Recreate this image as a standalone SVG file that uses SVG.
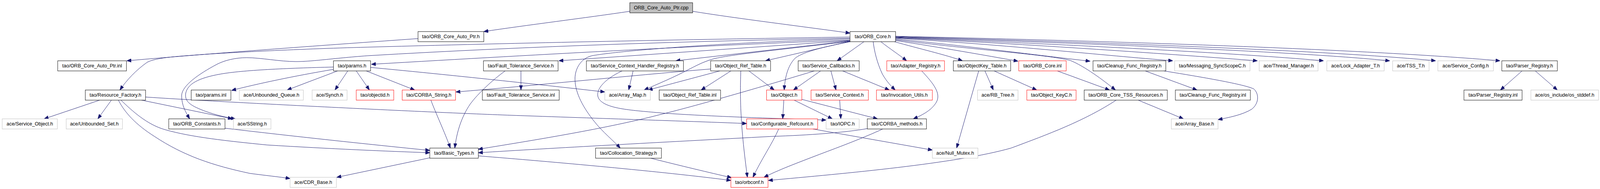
<svg xmlns="http://www.w3.org/2000/svg" width="4352" height="485" viewBox="0 0 4352 485">
<defs>
<style>
.n rect{fill:#ffffff;stroke:#000000;stroke-width:1}
.n.red rect{stroke:#ff0000}
.n.gray rect{stroke:#bfbfbf}
.n.root rect{fill:#bfbfbf;stroke:#000000}
.n text{font-family:"Liberation Sans",Arial,Helvetica,sans-serif;font-size:13.3px;fill:#000000;text-anchor:middle}
.e path{fill:none;stroke:#191970;stroke-width:1;marker-end:url(#arr)}
</style>
<marker id="arr" markerWidth="12" markerHeight="9" refX="12" refY="4.5" orient="auto" markerUnits="userSpaceOnUse">
<path d="M0,0 L12,4.5 L0,9 z" fill="#191970" stroke="#191970" stroke-width="1"/>
</marker>
</defs>
<rect x="0" y="0" width="4352" height="485" fill="#ffffff"/>
<g id="diagram" transform="scale(0.941176,1)">
<g id="edges" class="e">
<path d="M1713,29 C1600,45 1420,66 1316,81"/>
<path d="M1884,29 C2000,47 2200,70 2312,85"/>
<path d="M1137,99 C900,115 600,135 345,156"/>
<path d="M2312,95 C1900,101 1500,108 1000,121 C800,126 600,136 520,142 C460,146 420,150 400,160 C370,180 345,205 326,231"/>
<path d="M2312,98 C1900,105 1450,118 1000,143 C900,150 850,158 805,158 C760,158 710,148 671,148 C640,148 610,155 590,165 C540,190 495,220 494,245 C494,270 505,288 516,305"/>
<path d="M2312,103 C1950,115 1500,138 1010,165"/>
<path d="M2312,104 L1520,156"/>
<path d="M2312,105 L1838,156"/>
<path d="M2312,106 L2082,156"/>
<path d="M2312,100 C2000,108 1700,128 1610,143 C1580,150 1565,175 1564,200 C1563,240 1590,280 1615,310 C1640,340 1670,362 1687,380"/>
<path d="M2312,106 C2150,125 1980,140 1937,152 C1910,160 1895,168 1880,175 C1830,200 1790,215 1752,231"/>
<path d="M2313,107 C2230,122 2180,135 2162,150 C2142,170 2135,200 2133,231"/>
<path d="M2350,107 L2277,156"/>
<path d="M2375,107 C2378,130 2385,160 2400,190 C2412,210 2425,222 2435,231"/>
<path d="M2396,107 C2420,125 2445,140 2466,156"/>
<path d="M2433,107 C2500,125 2570,140 2618,156"/>
<path d="M2436,104 C2560,122 2680,142 2769,157"/>
<path d="M2436,102 C2650,128 2850,140 2911,155 C2950,170 3000,205 3034,231"/>
<path d="M2436,100 C2650,120 2850,145 2965,157"/>
<path d="M2436,98 C2750,116 3000,142 3190,156"/>
<path d="M2436,97 C2800,113 3200,140 3420,156"/>
<path d="M2436,96 C2850,112 3350,135 3600,156"/>
<path d="M2436,95 C2900,110 3500,130 3780,156"/>
<path d="M2436,94 C2950,108 3600,128 3905,156"/>
<path d="M2436,93 C3000,105 3700,125 4080,156"/>
<path d="M1933,177 C1700,195 1450,220 1240,236"/>
<path d="M1958,182 L1763,231"/>
<path d="M1988,182 L1907,231"/>
<path d="M2037,182 L2106,231"/>
<path d="M2015,182 C2012,260 2015,330 2033,455"/>
<path d="M1722,182 L1710,231"/>
<path d="M1692,182 C1640,205 1615,235 1630,255 C1650,280 1720,283 1800,290 C1950,300 2150,305 2247,308"/>
<path d="M907,178 C800,195 700,215 630,232"/>
<path d="M907,172 C780,175 660,180 600,190 C540,200 510,215 505,240 C502,262 520,272 560,286 C590,296 615,301 640,305"/>
<path d="M918,182 L781,231"/>
<path d="M946,182 L911,231"/>
<path d="M969,182 L1005,231"/>
<path d="M996,182 L1128,231"/>
<path d="M1008,173 C1200,190 1450,215 1645,236"/>
<path d="M271,257 L120,305"/>
<path d="M303,257 L266,305"/>
<path d="M385,257 L632,305"/>
<path d="M396,249 C600,262 1200,290 1426,297 C1700,306 1900,312 2031,317"/>
<path d="M329,257 C360,285 400,320 450,333 C520,352 620,362 726,372 C900,382 1050,388 1169,392"/>
<path d="M322,257 C340,290 370,320 420,350 C500,400 580,425 680,445 C720,450 760,454 789,458"/>
<path d="M612,329 C800,350 1000,370 1169,386"/>
<path d="M1172,257 C1185,290 1210,340 1225,380"/>
<path d="M1374,182 C1340,205 1300,240 1279,267 C1255,300 1242,340 1237,380"/>
<path d="M1417,182 L1417,231"/>
<path d="M2215,182 C2100,215 1900,270 1800,293 C1650,330 1450,360 1301,383"/>
<path d="M2359,330 C2300,340 2200,347 2100,350 C1800,365 1500,380 1301,392"/>
<path d="M1169,405 L916,455"/>
<path d="M1301,400 C1500,415 1800,440 1988,463"/>
<path d="M1770,406 C1850,425 1930,443 1990,456"/>
<path d="M2118,331 C2100,370 2070,410 2048,455"/>
<path d="M2401,331 C2300,375 2150,420 2078,455"/>
<path d="M3036,257 C2950,310 2850,345 2750,380 C2600,420 2300,445 2090,463"/>
<path d="M2132,257 L2129,305"/>
<path d="M2160,257 L2264,305"/>
<path d="M2181,255 L2387,305"/>
<path d="M2232,182 L2158,231"/>
<path d="M2260,182 L2274,231"/>
<path d="M2292,182 L2419,231"/>
<path d="M2284,257 L2287,305"/>
<path d="M2507,182 C2540,215 2560,240 2547,262 C2535,282 2510,295 2484,305"/>
<path d="M2662,182 L2602,380"/>
<path d="M2679,182 L2702,231"/>
<path d="M2704,182 L2820,231"/>
<path d="M2211,331 L2536,385"/>
<path d="M2876,182 L3018,231"/>
<path d="M3115,182 L3256,231"/>
<path d="M3166,182 C3250,195 3380,215 3410,228 C3425,240 3425,265 3405,280 C3380,295 3340,302 3313,307"/>
<path d="M3096,257 L3219,305"/>
<path d="M4140,182 L4081,231"/>
<path d="M4176,182 L4236,231"/>
</g>
<g id="n0" class="n root"><rect x="1713" y="7" width="171" height="26"/><text x="1798.5" y="24.5">ORB_Core_Auto_Ptr.cpp</text></g>
<g id="n1" class="n"><rect x="1137" y="81" width="179" height="26"/><text x="1226.5" y="98.5">tao/ORB_Core_Auto_Ptr.h</text></g>
<g id="n2" class="n"><rect x="2312" y="81" width="124" height="26"/><text x="2374" y="98.5">tao/ORB_Core.h</text></g>
<g id="n3" class="n"><rect x="157" y="156" width="187" height="26"/><text x="250.5" y="173.5">tao/ORB_Core_Auto_Ptr.inl</text></g>
<g id="n4" class="n"><rect x="907" y="156" width="101" height="26"/><text x="957.5" y="173.5">tao/params.h</text></g>
<g id="n5" class="n"><rect x="1315" y="156" width="203" height="26"/><text x="1416.5" y="173.5">tao/Fault_Tolerance_Service.h</text></g>
<g id="n6" class="n"><rect x="1595" y="156" width="264" height="26"/><text x="1727" y="173.5">tao/Service_Context_Handler_Registry.h</text></g>
<g id="n7" class="n"><rect x="1933" y="156" width="163" height="26"/><text x="2014.5" y="173.5">tao/Object_Ref_Table.h</text></g>
<g id="n8" class="n"><rect x="2171" y="156" width="166" height="26"/><text x="2254" y="173.5">tao/Service_Callbacks.h</text></g>
<g id="n9" class="n red"><rect x="2412" y="156" width="157" height="26"/><text x="2490.5" y="173.5">tao/Adapter_Registry.h</text></g>
<g id="n10" class="n"><rect x="2593" y="156" width="156" height="26"/><text x="2671" y="173.5">tao/ObjectKey_Table.h</text></g>
<g id="n11" class="n red"><rect x="2771" y="156" width="129" height="26"/><text x="2835.5" y="173.5">tao/ORB_Core.inl</text></g>
<g id="n12" class="n"><rect x="2973" y="156" width="198" height="26"/><text x="3072" y="173.5">tao/Cleanup_Func_Registry.h</text></g>
<g id="n13" class="n gray"><rect x="3195" y="156" width="205" height="26"/><text x="3297.5" y="173.5">tao/Messaging_SyncScopeC.h</text></g>
<g id="n14" class="n gray"><rect x="3425" y="156" width="160" height="26"/><text x="3505" y="173.5">ace/Thread_Manager.h</text></g>
<g id="n15" class="n gray"><rect x="3609" y="156" width="156" height="26"/><text x="3687" y="173.5">ace/Lock_Adapter_T.h</text></g>
<g id="n16" class="n gray"><rect x="3788" y="156" width="99" height="26"/><text x="3837.5" y="173.5">ace/TSS_T.h</text></g>
<g id="n17" class="n gray"><rect x="3911" y="156" width="151" height="26"/><text x="3986.5" y="173.5">ace/Service_Config.h</text></g>
<g id="n18" class="n"><rect x="4085" y="156" width="151" height="26"/><text x="4160.5" y="173.5">tao/Parser_Registry.h</text></g>
<g id="n19" class="n"><rect x="232" y="231" width="164" height="26"/><text x="314" y="248.5">tao/Resource_Factory.h</text></g>
<g id="n20" class="n"><rect x="520" y="231" width="108" height="26"/><text x="574" y="248.5">tao/params.inl</text></g>
<g id="n21" class="n gray"><rect x="651" y="231" width="174" height="26"/><text x="738" y="248.5">ace/Unbounded_Queue.h</text></g>
<g id="n22" class="n gray"><rect x="849" y="231" width="95" height="26"/><text x="896.5" y="248.5">ace/Synch.h</text></g>
<g id="n23" class="n red"><rect x="969" y="231" width="102" height="26"/><text x="1020" y="248.5">tao/objectid.h</text></g>
<g id="n24" class="n red"><rect x="1094" y="231" width="145" height="26"/><text x="1166.5" y="248.5">tao/CORBA_String.h</text></g>
<g id="n25" class="n"><rect x="1312" y="231" width="209" height="26"/><text x="1416.5" y="248.5">tao/Fault_Tolerance_Service.inl</text></g>
<g id="n26" class="n gray"><rect x="1645" y="231" width="124" height="26"/><text x="1707" y="248.5">ace/Array_Map.h</text></g>
<g id="n27" class="n"><rect x="1793" y="231" width="167" height="26"/><text x="1876.5" y="248.5">tao/Object_Ref_Table.inl</text></g>
<g id="n28" class="n red"><rect x="2085" y="231" width="96" height="26"/><text x="2133" y="248.5">tao/Object.h</text></g>
<g id="n29" class="n red"><rect x="2206" y="231" width="156" height="26"/><text x="2284" y="248.5">tao/Service_Context.h</text></g>
<g id="n30" class="n red"><rect x="2384" y="231" width="152" height="26"/><text x="2460" y="248.5">tao/Invocation_Utils.h</text></g>
<g id="n31" class="n gray"><rect x="2659" y="231" width="110" height="26"/><text x="2714" y="248.5">ace/RB_Tree.h</text></g>
<g id="n32" class="n red"><rect x="2793" y="231" width="134" height="26"/><text x="2860" y="248.5">tao/Object_KeyC.h</text></g>
<g id="n33" class="n"><rect x="2949" y="231" width="226" height="26"/><text x="3062" y="248.5">tao/ORB_Core_TSS_Resources.h</text></g>
<g id="n34" class="n"><rect x="3197" y="231" width="204" height="26"/><text x="3299" y="248.5">tao/Cleanup_Func_Registry.inl</text></g>
<g id="n35" class="n"><rect x="3982" y="231" width="158" height="26"/><text x="4061" y="248.5">tao/Parser_Registry.inl</text></g>
<g id="n36" class="n gray"><rect x="4164" y="231" width="184" height="26"/><text x="4256" y="248.5">ace/os_include/os_stddef.h</text></g>
<g id="n37" class="n gray"><rect x="6" y="305" width="150" height="26"/><text x="81" y="322.5">ace/Service_Object.h</text></g>
<g id="n38" class="n gray"><rect x="180" y="305" width="153" height="26"/><text x="256.5" y="322.5">ace/Unbounded_Set.h</text></g>
<g id="n39" class="n"><rect x="459" y="305" width="153" height="26"/><text x="535.5" y="322.5">tao/ORB_Constants.h</text></g>
<g id="n40" class="n gray"><rect x="635" y="305" width="102" height="26"/><text x="686" y="322.5">ace/SString.h</text></g>
<g id="n41" class="n red"><rect x="2031" y="305" width="193" height="26"/><text x="2127.5" y="322.5">tao/Configurable_Refcount.h</text></g>
<g id="n42" class="n gray"><rect x="2247" y="305" width="90" height="26"/><text x="2292" y="322.5">tao/IOPC.h</text></g>
<g id="n43" class="n"><rect x="2359" y="305" width="161" height="26"/><text x="2439.5" y="322.5">tao/CORBA_methods.h</text></g>
<g id="n44" class="n gray"><rect x="3186" y="305" width="127" height="26"/><text x="3249.5" y="322.5">ace/Array_Base.h</text></g>
<g id="n45" class="n"><rect x="1169" y="380" width="132" height="26"/><text x="1235" y="397.5">tao/Basic_Types.h</text></g>
<g id="n46" class="n"><rect x="1620" y="380" width="179" height="26"/><text x="1709.5" y="397.5">tao/Collocation_Strategy.h</text></g>
<g id="n47" class="n gray"><rect x="2536" y="380" width="124" height="26"/><text x="2598" y="397.5">ace/Null_Mutex.h</text></g>
<g id="n48" class="n gray"><rect x="789" y="455" width="126" height="26"/><text x="852" y="472.5">ace/CDR_Base.h</text></g>
<g id="n49" class="n red"><rect x="1988" y="455" width="101" height="26"/><text x="2038.5" y="472.5">tao/orbconf.h</text></g>
</g>
</svg>
